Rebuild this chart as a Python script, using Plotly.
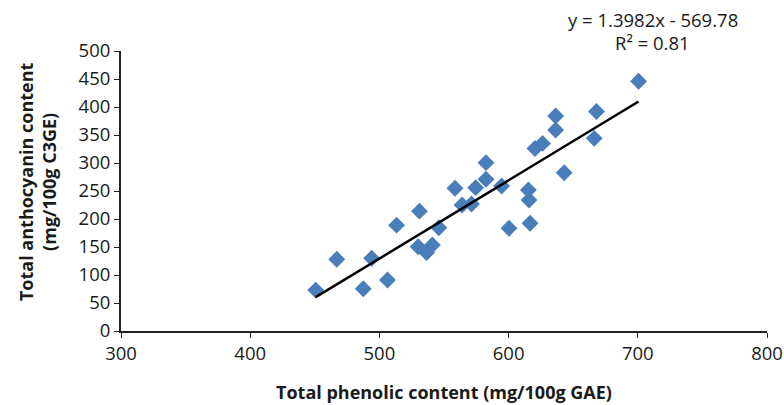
import plotly.graph_objects as go

# Data
phenolic = [450.7, 467, 487.5, 494, 506.3, 513.3, 531, 530, 536.5, 541, 546,
            558.5, 564, 571.3, 574.5, 582.5, 582.5, 594.6, 600.3, 615.3, 615.8,
            616.6, 620.4, 626.3, 636.4, 636.4, 643, 666.3, 668, 700.6]
anthocyanin = [73, 128, 75.5, 130, 91, 189, 214, 150.5, 140, 153.6, 184.5,
               254.8, 225, 226.8, 256, 300.6, 271, 259, 183.4, 251.8, 234,
               192.3, 326, 335, 384, 359, 282.7, 344, 392, 446]

slope = 1.3982
intercept = -569.78
r2 = 0.81
trend_x = [min(phenolic), max(phenolic)]
trend_y = [slope * x + intercept for x in trend_x]

x_ticks = [300, 400, 500, 600, 700, 800]
y_ticks = [0, 50, 100, 150, 200, 250, 300, 350, 400, 450, 500]

x_title = "Total phenolic content (mg/100g GAE)"
y_title = "Total anthocyanin content<br>(mg/100g C3GE)"

font_family = "'Open Sans', Lato, sans-serif"
txt_color = "#1a1a1a"

fig = go.Figure()
fig.add_trace(go.Scatter(
    x=phenolic, y=anthocyanin, mode="markers",
    marker=dict(symbol="diamond", size=13, color="#4A7EBB"),
    showlegend=False, hoverinfo="x+y"))
fig.add_trace(go.Scatter(
    x=trend_x, y=trend_y, mode="lines",
    line=dict(color="black", width=2.5), showlegend=False, hoverinfo="skip"))

fig.add_annotation(x=0.823, y=1.111, xref="paper", yref="paper",
                   text=f"y = {slope}x - {abs(intercept)}", showarrow=False,
                   font=dict(size=18.5, color=txt_color, family=font_family),
                   xanchor="center", yanchor="middle")
fig.add_annotation(x=0.823, y=1.029, xref="paper", yref="paper",
                   text=f"R² = {r2}", showarrow=False,
                   font=dict(size=18.5, color=txt_color, family=font_family),
                   xanchor="center", yanchor="middle")
fig.add_annotation(x=0.5, y=-0.218, xref="paper", yref="paper",
                   text=f"<b>{x_title}</b>", showarrow=False,
                   font=dict(size=18, color=txt_color, family=font_family),
                   xanchor="center", yanchor="middle")
fig.add_annotation(x=-0.130, y=0.532, xref="paper", yref="paper",
                   text=f"<b>{y_title}</b>", showarrow=False, textangle=-90,
                   font=dict(size=18, color=txt_color, family=font_family),
                   xanchor="center", yanchor="middle")

fig.update_layout(
    width=784, height=405,
    margin=dict(l=121, r=17, t=51, b=74),
    paper_bgcolor="white", plot_bgcolor="white",
    font=dict(family=font_family, size=18.5, color=txt_color),
    xaxis=dict(range=[300, 800], tickvals=x_ticks, showgrid=False, zeroline=False,
               showline=True, linecolor="#222", linewidth=2,
               ticks="outside", ticklen=5, tickcolor="#222", tickwidth=1,
               automargin=False),
    yaxis=dict(range=[0, 500], tickvals=y_ticks, showgrid=False, zeroline=False,
               showline=True, linecolor="#222", linewidth=2,
               ticks="outside", ticklen=5, tickcolor="#222", tickwidth=1,
               automargin=False),
)

fig.write_html(
    "out.html",
    config={"displayModeBar": False},
    post_script="document.body.style.margin='0';"
                "document.documentElement.style.overflow='hidden';")
